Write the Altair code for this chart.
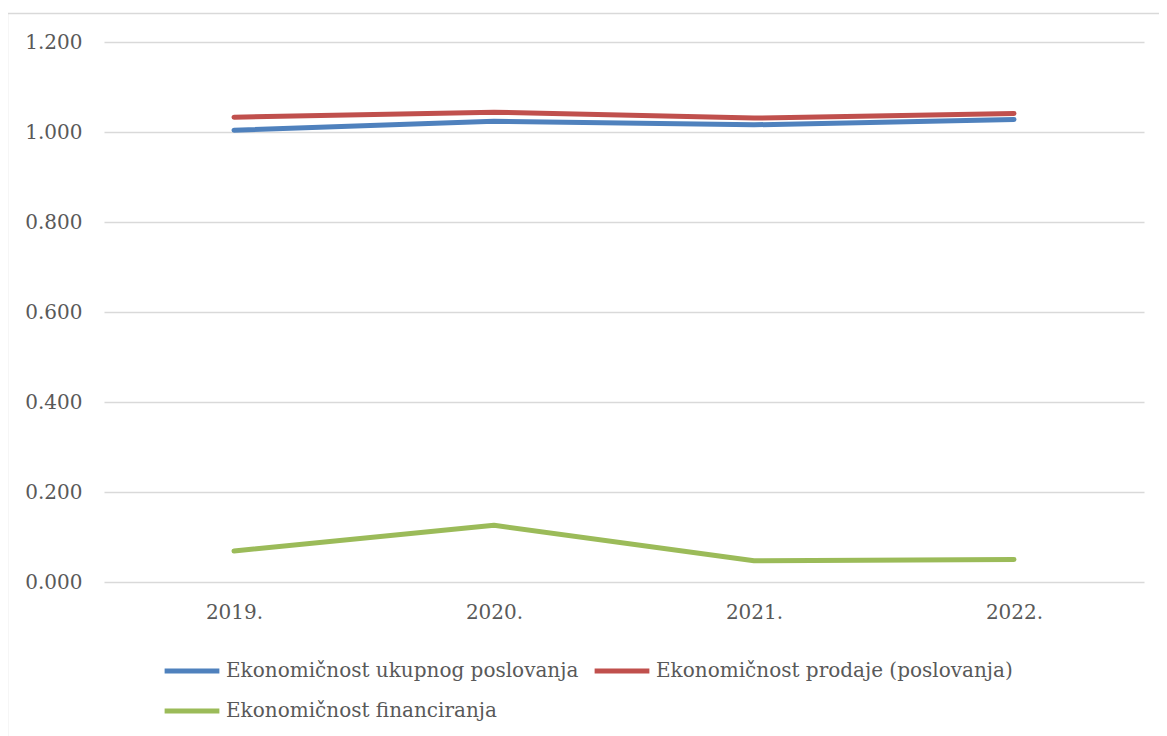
import altair as alt
import pandas as pd

years = ["2019.", "2020.", "2021.", "2022."]
series_names = [
    "Ekonomičnost ukupnog poslovanja",
    "Ekonomičnost prodaje (poslovanja)",
    "Ekonomičnost financiranja",
]
ukupno = [1.004, 1.024, 1.016, 1.028]
prodaja = [1.033, 1.044, 1.031, 1.041]
financiranje = [0.069, 0.126, 0.047, 0.050]
colors = ["#4F81BD", "#C0504D", "#9BBB59"]
y_ticks = [0.0, 0.2, 0.4, 0.6, 0.8, 1.0, 1.2]

rows = []
for name, vals in zip(series_names, [ukupno, prodaja, financiranje]):
    for yr, v in zip(years, vals):
        rows.append({"Godina": yr, "Serija": name, "Vrijednost": v})
df = pd.DataFrame(rows)

FONT = "DejaVu Serif"
TXT = "#595959"

lines = alt.Chart(df).mark_line(strokeWidth=5, strokeCap="round", strokeJoin="round").encode(
    x=alt.X("Godina:O", sort=years, title=None,
            scale=alt.Scale(type="point", padding=0.5),
            axis=alt.Axis(labelAngle=0, domain=False, ticks=False, grid=False,
                          labelPadding=20, labelFont=FONT, labelFontSize=20,
                          labelColor=TXT)),
    y=alt.Y("Vrijednost:Q", title=None,
            scale=alt.Scale(domain=[0, 1.2], nice=False, zero=True),
            axis=alt.Axis(values=y_ticks, format=".3f", domain=False, ticks=False,
                          grid=True, gridColor="#D9D9D9", gridWidth=1.5,
                          labelPadding=22, labelFont=FONT, labelFontSize=20,
                          labelColor=TXT)),
    color=alt.Color("Serija:N", title=None,
                    scale=alt.Scale(domain=series_names, range=colors),
                    legend=alt.Legend(orient="none", legendX=58, legendY=599,
                                      direction="horizontal", columns=2,
                                      symbolType="stroke", symbolSize=3000,
                                      symbolStrokeWidth=5, labelOffset=4,
                                      columnPadding=5, rowPadding=-12,
                                      labelFont=FONT, labelFontSize=20,
                                      labelColor=TXT, labelLimit=600)),
    order=alt.Order("Godina:O"),
)

frame = alt.Chart(alt.Data(values=[{}])).mark_rect(
    fill=None, stroke="#D9D9D9", strokeWidth=1.5
).encode(
    x=alt.value(-96.5), x2=alt.value(1080),
    y=alt.value(-28.5), y2=alt.value(720),
)

chart = alt.layer(frame, lines).properties(
    width=1040, height=540,
    autosize=alt.AutoSizeParams(type="none"),
    padding={"left": 96, "top": 34, "right": 15, "bottom": 154},
).configure_view(stroke=None)

chart.save("out.html", embed_options={"renderer": "svg", "actions": False})
